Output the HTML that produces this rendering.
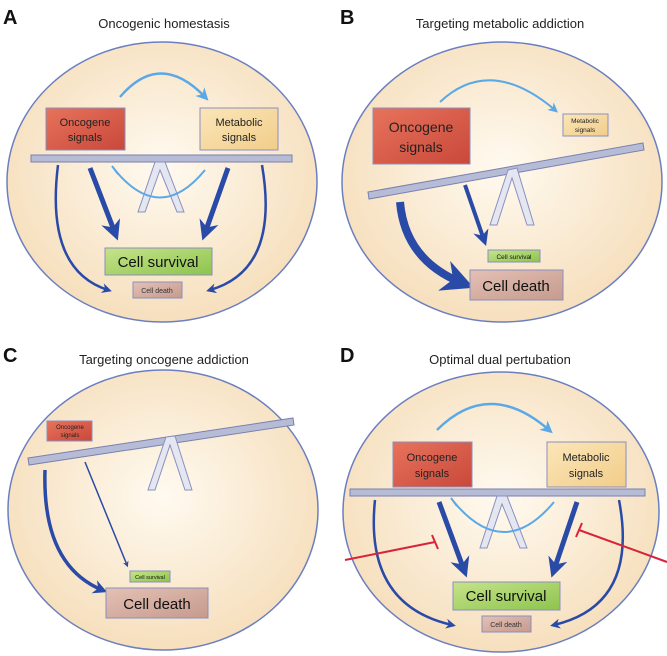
<!DOCTYPE html>
<html><head><style>body{margin:0;background:#fff}svg{display:block}</style></head><body>
<svg width="667" height="656" viewBox="0 0 667 656" xmlns="http://www.w3.org/2000/svg" font-family="Liberation Sans, sans-serif">
<defs>
<radialGradient id="cell" cx="50%" cy="45%" r="55%"><stop offset="0" stop-color="#fffaf0"/><stop offset="1" stop-color="#f6dfbd"/></radialGradient>
<linearGradient id="onc" x1="0" y1="0" x2="1" y2="1"><stop offset="0" stop-color="#e7735c"/><stop offset="1" stop-color="#c9483a"/></linearGradient>
<linearGradient id="met" x1="0" y1="0" x2="1" y2="1"><stop offset="0" stop-color="#fbe6b8"/><stop offset="1" stop-color="#f2cd8a"/></linearGradient>
<linearGradient id="surv" x1="0" y1="0" x2="1" y2="1"><stop offset="0" stop-color="#c6e38a"/><stop offset="1" stop-color="#8dc44e"/></linearGradient>
<linearGradient id="death" x1="0" y1="0" x2="1" y2="1"><stop offset="0" stop-color="#e4c0b4"/><stop offset="1" stop-color="#c59b8e"/></linearGradient>
<marker id="ad" viewBox="0 0 10 10" refX="6" refY="5" markerWidth="4" markerHeight="4" orient="auto"><path d="M0,0L10,5L0,10L3,5z" fill="#2a4aa8"/></marker>
<marker id="al" viewBox="0 0 10 10" refX="6" refY="5" markerWidth="5" markerHeight="5" orient="auto"><path d="M0,0L10,5L0,10L3,5z" fill="#5aa9e6"/></marker>
</defs>
<g font-weight="bold" font-size="20" fill="#111"><text x="3" y="24">A</text><text x="340" y="24">B</text><text x="3" y="362">C</text><text x="340" y="362">D</text></g>
<g font-size="13" fill="#222" text-anchor="middle"><text x="164" y="28">Oncogenic homestasis</text><text x="500" y="28">Targeting metabolic addiction</text><text x="164" y="364">Targeting oncogene addiction</text><text x="500" y="364">Optimal dual pertubation</text></g>

<!-- A -->
<g id="A">
<ellipse cx="162" cy="182" rx="155" ry="140" fill="url(#cell)" stroke="#6b7fc0" stroke-width="1.5"/>
<path d="M120,97 Q160,50 205,97" fill="none" stroke="#5aa9e6" stroke-width="2.5" marker-end="url(#al)"/>
<rect x="46" y="108" width="79" height="42" fill="url(#onc)" stroke="#8a8fc0"/>
<text x="85" y="126" font-size="11" text-anchor="middle" fill="#222">Oncogene</text><text x="85" y="141" font-size="11" text-anchor="middle" fill="#222">signals</text>
<rect x="200" y="108" width="78" height="42" fill="url(#met)" stroke="#8a8fc0"/>
<text x="239" y="126" font-size="11" text-anchor="middle" fill="#222">Metabolic</text><text x="239" y="141" font-size="11" text-anchor="middle" fill="#222">signals</text>
<rect x="31" y="155" width="261" height="7" fill="#b7bcd6" stroke="#7a80b0"/>
<path d="M155,162 L165,162 L184,212 L177,212 L160,170 L145,212 L138,212 Z" fill="#e4e6f0" stroke="#8a8fc0"/>
<path d="M205,170 Q160,225 115,170" fill="none" stroke="#5aa9e6" stroke-width="2"/>
<path d="M112,166 L118,174" stroke="#5aa9e6" stroke-width="2"/>
<path d="M90,168 L115,233" stroke="#2a4aa8" stroke-width="5" marker-end="url(#ad)"/>
<path d="M228,168 L205,233" stroke="#2a4aa8" stroke-width="5" marker-end="url(#ad)"/>
<path d="M58,165 Q45,270 108,290" fill="none" stroke="#2a4aa8" stroke-width="2.5" marker-end="url(#ad)"/>
<path d="M262,165 Q280,270 210,290" fill="none" stroke="#2a4aa8" stroke-width="2.5" marker-end="url(#ad)"/>
<rect x="105" y="248" width="107" height="27" fill="url(#surv)" stroke="#8a8fc0"/>
<text x="158" y="267" font-size="15" text-anchor="middle" fill="#111">Cell survival</text>
<rect x="133" y="282" width="49" height="16" fill="url(#death)" stroke="#8a8fc0"/>
<text x="157" y="293" font-size="7" text-anchor="middle" fill="#333">Cell death</text>
</g>

<!-- B -->
<ellipse cx="502" cy="182" rx="160" ry="140" fill="url(#cell)" stroke="#6b7fc0" stroke-width="1.5"/>
<path d="M440,102 Q490,55 555,110" fill="none" stroke="#5aa9e6" stroke-width="2" marker-end="url(#al)"/>
<rect x="373" y="108" width="97" height="56" fill="url(#onc)" stroke="#8a8fc0"/>
<text x="421" y="132" font-size="14" text-anchor="middle" fill="#222">Oncogene</text><text x="421" y="152" font-size="14" text-anchor="middle" fill="#222">signals</text>
<rect x="563" y="114" width="45" height="22" fill="url(#met)" stroke="#8a8fc0"/>
<text x="585" y="123" font-size="6.5" text-anchor="middle" fill="#222">Metabolic</text><text x="585" y="132" font-size="6.5" text-anchor="middle" fill="#222">signals</text>
<path d="M368,192 L643,143 L644,150 L369,199 Z" fill="#b7bcd6" stroke="#7a80b0"/>
<path d="M508,170 L517,168 L534,225 L527,225 L512,178 L497,225 L490,225 Z" fill="#e4e6f0" stroke="#8a8fc0"/>
<path d="M400,202 Q405,260 462,283" fill="none" stroke="#2a4aa8" stroke-width="8" marker-end="url(#ad)"/>
<path d="M465,185 L484,240" stroke="#2a4aa8" stroke-width="4" marker-end="url(#ad)"/>
<rect x="488" y="250" width="52" height="12" fill="url(#surv)" stroke="#8a8fc0"/>
<text x="514" y="259" font-size="6.5" text-anchor="middle" fill="#111">Cell survival</text>
<rect x="470" y="270" width="93" height="30" fill="url(#death)" stroke="#8a8fc0"/>
<text x="516" y="291" font-size="15" text-anchor="middle" fill="#111">Cell death</text>

<!-- C -->
<ellipse cx="163" cy="510" rx="155" ry="140" fill="url(#cell)" stroke="#6b7fc0" stroke-width="1.5"/>
<rect x="47" y="421" width="45" height="20" fill="url(#onc)" stroke="#8a8fc0"/>
<text x="70" y="429" font-size="6" text-anchor="middle" fill="#222">Oncogene</text><text x="70" y="437" font-size="6" text-anchor="middle" fill="#222">signals</text>
<path d="M28,458 L293,418 L294,425 L29,465 Z" fill="#b7bcd6" stroke="#7a80b0"/>
<path d="M166,437 L175,436 L192,490 L185,490 L170,445 L155,490 L148,490 Z" fill="#e4e6f0" stroke="#8a8fc0"/>
<path d="M85,462 L127,565" stroke="#2a4aa8" stroke-width="1.5" marker-end="url(#ad)"/>
<path d="M45,470 Q42,565 102,590" fill="none" stroke="#2a4aa8" stroke-width="3.5" marker-end="url(#ad)"/>
<rect x="130" y="571" width="40" height="11" fill="url(#surv)" stroke="#8a8fc0"/>
<text x="150" y="579" font-size="5.5" text-anchor="middle" fill="#111">Cell survival</text>
<rect x="106" y="588" width="102" height="30" fill="url(#death)" stroke="#8a8fc0"/>
<text x="157" y="609" font-size="15" text-anchor="middle" fill="#111">Cell death</text>

<!-- D -->
<g transform="translate(339,330)">
<ellipse cx="162" cy="182" rx="158" ry="140" fill="url(#cell)" stroke="#6b7fc0" stroke-width="1.5"/>
<path d="M98,100 Q150,48 210,100" fill="none" stroke="#5aa9e6" stroke-width="2.5" marker-end="url(#al)"/>
<rect x="54" y="112" width="79" height="45" fill="url(#onc)" stroke="#8a8fc0"/>
<text x="93" y="131" font-size="11" text-anchor="middle" fill="#222">Oncogene</text><text x="93" y="147" font-size="11" text-anchor="middle" fill="#222">signals</text>
<rect x="208" y="112" width="79" height="45" fill="url(#met)" stroke="#8a8fc0"/>
<text x="247" y="131" font-size="11" text-anchor="middle" fill="#222">Metabolic</text><text x="247" y="147" font-size="11" text-anchor="middle" fill="#222">signals</text>
<rect x="11" y="159" width="295" height="7" fill="#b7bcd6" stroke="#7a80b0"/>
<path d="M158,166 L168,166 L188,218 L181,218 L163,174 L148,218 L141,218 Z" fill="#e4e6f0" stroke="#8a8fc0"/>
<path d="M215,172 Q165,232 115,172" fill="none" stroke="#5aa9e6" stroke-width="2"/>
<path d="M112,168 L118,176" stroke="#5aa9e6" stroke-width="2"/>
<path d="M100,172 L125,240" stroke="#2a4aa8" stroke-width="5" marker-end="url(#ad)"/>
<path d="M238,172 L215,240" stroke="#2a4aa8" stroke-width="5" marker-end="url(#ad)"/>
<path d="M36,170 Q25,275 113,295" fill="none" stroke="#2a4aa8" stroke-width="2.5" marker-end="url(#ad)"/>
<path d="M280,170 Q300,275 215,295" fill="none" stroke="#2a4aa8" stroke-width="2.5" marker-end="url(#ad)"/>
<path d="M6,230 L96,212" stroke="#d8233a" stroke-width="2"/><path d="M93,205 L99,219" stroke="#d8233a" stroke-width="2"/>
<path d="M328,232 L240,200" stroke="#d8233a" stroke-width="2"/><path d="M243,193 L237,207" stroke="#d8233a" stroke-width="2"/>
<rect x="114" y="252" width="107" height="28" fill="url(#surv)" stroke="#8a8fc0"/>
<text x="167" y="271" font-size="15" text-anchor="middle" fill="#111">Cell survival</text>
<rect x="143" y="286" width="49" height="16" fill="url(#death)" stroke="#8a8fc0"/>
<text x="167" y="297" font-size="7" text-anchor="middle" fill="#333">Cell death</text>
</g>
</svg>
</body></html>
